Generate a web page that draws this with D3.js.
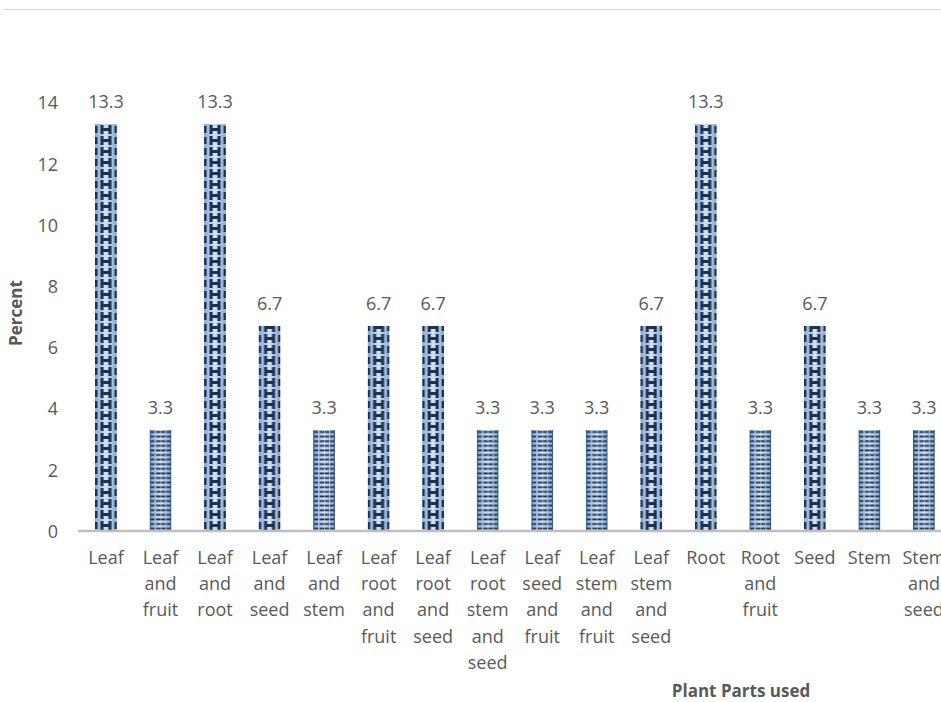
<!DOCTYPE html>
<html>
<head>
<meta charset="utf-8">
<script src="https://cdn.jsdelivr.net/npm/d3@7"></script>
<style>
  body { margin: 0; background: #fff; }
  svg { display: block; font-family: "Open Sans", sans-serif; }
</style>
</head>
<body>
<div id="chart"></div>
<script>
// plant parts used, percent of species
var categories = ["Leaf", "Leaf and fruit", "Leaf and root", "Leaf and seed", "Leaf and stem",
  "Leaf root and fruit", "Leaf root and seed", "Leaf root stem and seed", "Leaf seed and fruit",
  "Leaf stem and fruit", "Leaf stem and seed", "Root", "Root and fruit", "Seed", "Stem", "Stem and seed"];
var percents = [13.3, 3.3, 13.3, 6.7, 3.3, 6.7, 6.7, 3.3, 3.3, 3.3, 6.7, 13.3, 3.3, 6.7, 3.3, 3.3];
var yTicks = [0, 2, 4, 6, 8, 10, 12, 14];

(function() {
  var width = 941, height = 702;
  var textColor = "#595959";

  var svg = d3.select("#chart").append("svg")
    .attr("width", width)
    .attr("height", height);

  // chart border top line
  svg.append("line")
    .attr("x1", 3).attr("x2", width)
    .attr("y1", 9.5).attr("y2", 9.5)
    .attr("stroke", "#d9d9d9").attr("stroke-width", 1);

  var x = d3.scaleBand()
    .domain(categories)
    .range([78.7, 78.7 + 16 * 54.53])
    .paddingInner(0.597)
    .paddingOuter(0.2985);

  var y = d3.scaleLinear().domain([0, 14]).range([531, 102.5]);

  var bw = x.bandwidth();
  var defs = svg.append("defs");

  var grad = defs.append("linearGradient").attr("id", "barGrad")
    .attr("x1", 0).attr("x2", 1).attr("y1", 0).attr("y2", 0);
  grad.append("stop").attr("offset", "0%").attr("stop-color", "#85a8d4");
  grad.append("stop").attr("offset", "50%").attr("stop-color", "#d3e1f2");
  grad.append("stop").attr("offset", "100%").attr("stop-color", "#85a8d4");

  var dark = "#1a3150";

  // bowtie pattern for the taller bars
  var p1 = defs.append("pattern").attr("id", "bowtie")
    .attr("patternUnits", "userSpaceOnUse")
    .attr("x", x(categories[0])).attr("y", y(0))
    .attr("width", x.step()).attr("height", 11);
  p1.append("rect").attr("width", bw).attr("height", 11).attr("fill", "url(#barGrad)");
  p1.append("rect").attr("x", 0).attr("y", 2).attr("width", 2.5).attr("height", 7).attr("fill", dark);
  p1.append("rect").attr("x", 5.5).attr("y", 1).attr("width", 3).attr("height", 9).attr("fill", dark);
  p1.append("rect").attr("x", bw - 8.5).attr("y", 1).attr("width", 3).attr("height", 9).attr("fill", dark);
  p1.append("rect").attr("x", 8).attr("y", 4).attr("width", bw - 16).attr("height", 3).attr("fill", dark);
  p1.append("rect").attr("x", bw - 2.5).attr("y", 2).attr("width", 2.5).attr("height", 7).attr("fill", dark);

  // ladder pattern for the short bars
  var p2 = defs.append("pattern").attr("id", "ladder")
    .attr("patternUnits", "userSpaceOnUse")
    .attr("x", x(categories[0])).attr("y", y(0))
    .attr("width", x.step()).attr("height", 4.6);
  p2.append("rect").attr("width", bw).attr("height", 4.6).attr("fill", "url(#barGrad)");
  [[0, 5], [6.5, 4.5], [11.5, 4.5], [17, bw - 17]].forEach(function(s) {
    p2.append("rect").attr("x", s[0]).attr("y", 1.3).attr("width", s[1]).attr("height", 1.8).attr("fill", dark);
  });
  p2.append("rect").attr("x", 0).attr("y", 0).attr("width", 1.2).attr("height", 4.6).attr("fill", "#3b5a85");
  p2.append("rect").attr("x", bw - 1.2).attr("y", 0).attr("width", 1.2).attr("height", 4.6).attr("fill", "#3b5a85");

  var data = categories.map(function(c, i) { return { name: c, value: percents[i] }; });

  svg.selectAll("rect.bar")
    .data(data)
    .enter().append("rect")
    .attr("class", "bar")
    .attr("x", function(d) { return x(d.name); })
    .attr("width", bw)
    .attr("y", function(d) { return y(d.value); })
    .attr("height", function(d) { return y(0) - y(d.value); })
    .attr("fill", function(d) { return d.value > 5 ? "url(#bowtie)" : "url(#ladder)"; });

  // value labels
  svg.selectAll("text.val")
    .data(data)
    .enter().append("text")
    .attr("class", "val")
    .attr("x", function(d) { return x(d.name) + bw / 2; })
    .attr("y", function(d) { return y(d.value) - 16; })
    .attr("text-anchor", "middle")
    .attr("font-size", "18px")
    .attr("fill", textColor)
    .text(function(d) { return d.value.toFixed(1); });

  // y axis labels
  var yAxis = d3.axisLeft(y).tickValues(yTicks).tickSize(0).tickPadding(0);
  var gy = svg.append("g").attr("transform", "translate(58,0)").call(yAxis);
  gy.select(".domain").remove();
  gy.selectAll("text").attr("font-size", "18px").attr("fill", textColor)
    .attr("font-family", "Open Sans, sans-serif").attr("dy", "0.35em");

  // x axis line and labels
  var xAxis = d3.axisBottom(x).tickSize(0).tickSizeOuter(0).tickFormat("");
  var gx = svg.append("g").attr("transform", "translate(0," + y(0) + ")").call(xAxis);
  gx.select(".domain").attr("stroke", "#bfbfbf").attr("stroke-width", 2.5)
    .attr("d", "M78," + 0 + "H" + width);

  svg.selectAll("text.cat")
    .data(data)
    .enter().append("text")
    .attr("class", "cat")
    .attr("text-anchor", "middle")
    .attr("font-size", "18px")
    .attr("fill", textColor)
    .each(function(d) {
      var t = d3.select(this);
      d.name.split(" ").forEach(function(w, k) {
        t.append("tspan")
          .attr("x", x(d.name) + bw / 2)
          .attr("y", 564 + k * 26.2)
          .text(w);
      });
    });

  // axis titles
  svg.append("text")
    .attr("transform", "translate(22,313) rotate(-90)")
    .attr("text-anchor", "middle")
    .attr("font-size", "17px")
    .attr("font-weight", "bold")
    .attr("fill", textColor)
    .text("Percent");

  svg.append("text")
    .attr("x", 741).attr("y", 697)
    .attr("text-anchor", "middle")
    .attr("font-size", "17px")
    .attr("font-weight", "bold")
    .attr("fill", textColor)
    .text("Plant Parts used");
})();
</script>
</body>
</html>
